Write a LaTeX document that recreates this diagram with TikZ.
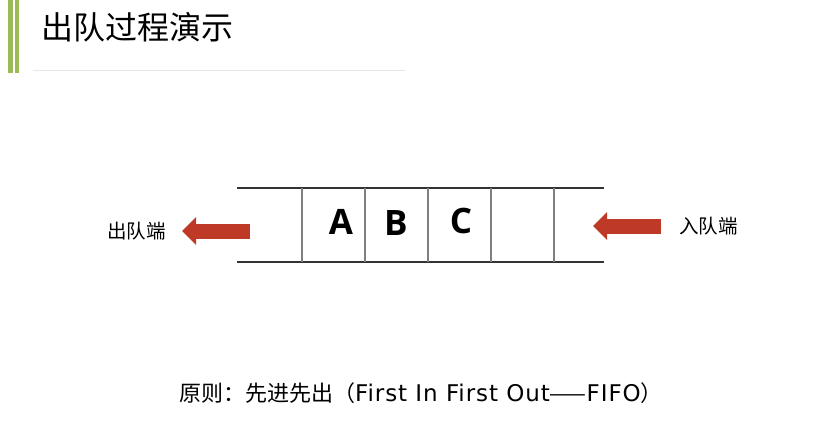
\documentclass[tikz,border=0pt]{standalone}
\usepackage{fontspec}
\setmainfont{Noto Sans CJK SC}
\setsansfont{Open Sans}
\newfontfamily\latinfont[LetterSpace=4]{DejaVu Sans}
\usetikzlibrary{arrows.meta, positioning}
\definecolor{barGreen}{HTML}{9BBB59}
\definecolor{arrowRed}{HTML}{BE3A26}
\definecolor{ruleGray}{HTML}{E8E8E8}
\definecolor{sepGray}{HTML}{7F7F7F}

\begin{document}
\begin{tikzpicture}[x=1pt, y=-1pt,
  rail/.style={draw=black!80, line width=1.5pt},
  sep/.style={draw=sepGray, line width=1.2pt},
  item/.style={inner sep=0pt, font=\sffamily\bfseries\fontsize{35}{40}\selectfont},
  side/.style={inner sep=0pt, font=\fontsize{19.5}{23}\selectfont},
  bigarrow/.style={draw=arrowRed, line width=15pt, -{Triangle[length=14pt, width=27pt]}}
]
\useasboundingbox (0,0) rectangle (822,426);

% title bar
\fill[barGreen] (8,0) rectangle (13,73);
\fill[barGreen] (15,0) rectangle (19,73);
\node[inner sep=0pt, anchor=west, font=\fontsize{32}{38}\selectfont] (title) at (41,27) {出队过程演示};
\draw[ruleGray, line width=1pt] (33,70) -- (405,70);

% queue
\draw[rail] (237,188) -- (604,188);
\draw[rail] (237,262) -- (604,262);
\foreach \x in {302,365,428,491,554}
  \draw[sep] (\x,188) -- (\x,262);
\node[item] (itemA) at (341,222) {A};
\node[item] (itemB) at (396,223) {B};
\node[item] (itemC) at (461,221) {C};

% ends
\coordinate (outStart) at (250,231);
\coordinate (outTip) at (182,231);
\draw[bigarrow] (outStart) -- (outTip);
\node[side, left=16pt of outTip] (outLabel) {出队端};

\coordinate (inStart) at (661,226);
\coordinate (inTip) at (593,226);
\draw[bigarrow] (inStart) -- (inTip);
\node[side, right=18pt of inStart] (inLabel) {入队端};

% rule
\node[inner sep=0pt, font=\fontsize{22}{26}\selectfont] (rule) at (421,393)
  {原则：先进先出（{\latinfont\fontsize{23}{26}\selectfont First In First Out}——{\latinfont\fontsize{23}{26}\selectfont FIFO}）};
\end{tikzpicture}
\end{document}
